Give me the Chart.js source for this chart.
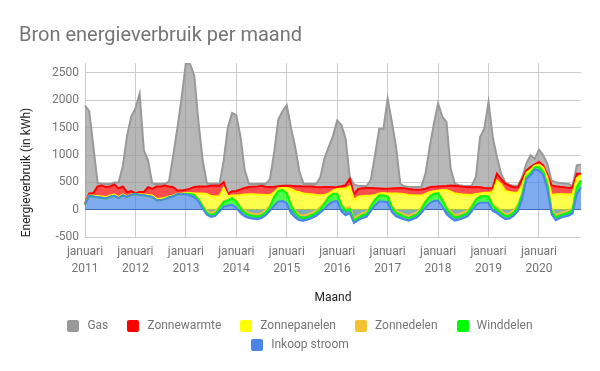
<!DOCTYPE html>
<html lang="nl">
<head>
<meta charset="utf-8">
<title>Bron energieverbruik per maand</title>
<script src="https://cdn.jsdelivr.net/npm/chart.js@4.4.1/dist/chart.umd.min.js"></script>
<style>
  html, body { margin: 0; padding: 0; background: #fff; }
  #wrap { position: relative; width: 600px; height: 371px; }
  #legenda {
    position: absolute; left: 40px; top: 316px; width: 520px;
    display: flex; flex-wrap: wrap; justify-content: center; gap: 0 19px;
    font: 12px Roboto, sans-serif; color: #757575; line-height: 19px;
  }
  #legenda .item { display: inline-flex; align-items: center; cursor: pointer; white-space: nowrap; }
  #legenda .item.uit { opacity: 0.4; }
  #legenda .blokje { width: 12px; height: 12px; border-radius: 2px; margin-right: 8px; }
</style>
</head>
<body>
<div id="wrap">
  <canvas id="energieChart"></canvas>
  <div id="legenda"></div>
</div>
<script>
const maandNamen = ['januari', 'februari', 'maart', 'april', 'mei', 'juni', 'juli', 'augustus', 'september', 'oktober', 'november', 'december'];
const jaren = [2011, 2012, 2013, 2014, 2015, 2016, 2017, 2018, 2019, 2020];

// kWh per maand, januari 2011 t/m november 2020
const inkoopStroom = [
  95, 252, 241, 230, 219, 207, 237, 255, 212, 265, 234, 275,
  288, 270, 265, 250, 237, 176, 176, 195, 224, 247, 283, 283,
  285, 262, 232, 150, 20, -90, -130, -110, -30, 60, 80, 90,
  40, -60, -120, -150, -165, -170, -150, -100, -20, 80, 150, 160,
  120, -60, -140, -190, -200, -180, -150, -110, -50, 20, 100, 150,
  160, -30, -100, -60, -240, -190, -150, -130, -20, 80, 150, 150,
  140, -40, -120, -150, -180, -200, -170, -140, -60, 40, 120, 160,
  170, 60, -80, -150, -200, -180, -150, -120, -30, 80, 130, 130,
  130, -20, -60, -120, -170, -160, -110, -20, 200, 560, 630, 740,
  720, 640, 380, -80, -190, -150, -125, -110, -70, 293, 414
];
const winddelen = [
  0, 0, 0, 0, 0, 0, 0, 0, 0, 0, 0, 0,
  0, 0, 0, 0, 0, 0, 0, 0, 0, 0, 0, 0,
  10, 25, 35, 40, 40, 35, 35, 40, 60, 80, 90, 120,
  110, 90, 70, 55, 50, 45, 45, 55, 70, 150, 190, 200,
  180, 140, 90, 60, 50, 50, 55, 55, 65, 90, 130, 140,
  130, 110, 90, 70, 45, 45, 50, 55, 75, 100, 110, 110,
  100, 90, 70, 60, 50, 45, 50, 55, 70, 100, 120, 130,
  130, 120, 100, 80, 60, 55, 55, 60, 75, 100, 110, 120,
  110, 90, 70, 60, 50, 50, 60, 80, 80, 40, 40, 30,
  60, 60, 80, 60, 50, 45, 50, 55, 70, 120, 120
];
const zonnedelen = [
  0, 0, 0, 0, 0, 0, 0, 0, 0, 0, 0, 0,
  0, 0, 0, 0, 0, 0, 0, 0, 0, 0, 0, 0,
  0, 5, 10, 15, 25, 35, 40, 40, 30, 20, 10, 10,
  15, 25, 35, 40, 45, 45, 45, 40, 30, 15, 10, 8,
  10, 25, 35, 40, 45, 45, 45, 40, 35, 25, 15, 10,
  10, 25, 35, 40, 40, 40, 40, 35, 25, 15, 10, 8,
  10, 25, 35, 40, 45, 45, 45, 40, 30, 20, 10, 8,
  10, 20, 30, 40, 45, 45, 45, 40, 30, 20, 10, 10,
  10, 25, 40, 45, 45, 45, 40, 30, 20, 10, 10, 5,
  5, 10, 20, 40, 45, 45, 40, 35, 30, 15, 10
];
const zonnepanelen = [
  5, 10, 15, 20, 25, 25, 25, 25, 20, 15, 10, 5,
  5, 10, 15, 20, 25, 25, 25, 25, 20, 15, 10, 10,
  10, 15, 23, 95, 215, 310, 305, 275, 190, 240, 70, 42,
  100, 215, 295, 340, 355, 360, 335, 275, 190, 75, 40, 32,
  90, 275, 355, 410, 405, 375, 335, 285, 215, 135, 55, 50,
  80, 280, 360, 380, 335, 345, 310, 295, 180, 75, 30, 37,
  50, 225, 315, 345, 370, 380, 340, 305, 220, 130, 70, 42,
  40, 160, 310, 360, 395, 370, 330, 295, 195, 90, 50, 50,
  60, 225, 480, 480, 420, 390, 320, 220, 150, 60, 50, 30,
  40, 60, 110, 250, 380, 350, 320, 300, 260, 150, 85
];
const zonnewarmte = [
  20, 31, 49, 177, 201, 183, 165, 184, 158, 147, 79, 62,
  12, 43, 43, 145, 122, 226, 226, 225, 183, 153, 61, 61,
  61, 79, 115, 127, 127, 135, 190, 200, 190, 105, 40, 78,
  80, 100, 120, 130, 135, 145, 165, 150, 145, 100, 40, 40,
  40, 60, 90, 110, 125, 135, 140, 145, 145, 145, 115, 60,
  35, 45, 65, 135, 110, 140, 145, 145, 140, 125, 90, 80,
  85, 90, 95, 105, 110, 110, 105, 105, 110, 95, 90, 80,
  75, 70, 75, 115, 140, 140, 140, 140, 140, 125, 110, 90,
  85, 80, 129, 95, 131, 115, 104, 104, 110, 50, 50, 25,
  47, 41, 50, 175, 145, 130, 129, 120, 120, 80, 30
];
const gas = [
  1780, 1507, 845, 63, 25, 55, 43, 36, 110, 373, 1027, 1358,
  1545, 1797, 767, 485, 96, 43, 43, 25, 93, 585, 1146, 1696,
  2314, 2274, 2035, 1173, 473, 55, 30, 30, 30, 398, 1223, 1429,
  1381, 960, 320, 61, 50, 45, 30, 50, 145, 630, 1220, 1360,
  1470, 1060, 720, 270, 51, 45, 45, 55, 190, 535, 735, 940,
  1215, 1120, 850, 25, 170, 60, 40, 35, 150, 605, 1092, 1097,
  1646, 1214, 752, 76, 35, 40, 45, 50, 50, 275, 740, 1150,
  1515, 1270, 1165, 305, 36, 20, 20, 20, 30, 183, 920, 1082,
  1575, 930, 305, 99, 24, 20, 26, 26, 40, 122, 220, 100,
  226, 183, 201, 91, 75, 70, 66, 76, 20, 153, 170
];

const yTicks = [-500, 0, 500, 1000, 1500, 2000, 2500];

const maanden = [];
jaren.forEach(jaar => maandNamen.forEach(naam => maanden.push(naam + ' ' + jaar)));
const labels = maanden.slice(0, gas.length);

Chart.defaults.font.family = 'Roboto, sans-serif';
Chart.defaults.font.size = 12;
Chart.defaults.color = '#757575';

function reeks(label, data, kleur, vulling, fill) {
  return {
    label: label,
    data: data,
    borderColor: kleur,
    backgroundColor: vulling,
    borderWidth: 2,
    pointRadius: 0,
    tension: 0,
    fill: fill
  };
}

// onderste laag eerst, zodat de stapeling klopt
const datasets = [
  reeks('Inkoop stroom', inkoopStroom, '#4a86e8', 'rgba(74, 134, 232, 0.7)', 'origin'),
  reeks('Winddelen', winddelen, '#00ff00', 'rgba(0, 255, 0, 0.7)', '-1'),
  reeks('Zonnedelen', zonnedelen, '#f1c232', 'rgba(241, 194, 50, 0.7)', '-1'),
  reeks('Zonnepanelen', zonnepanelen, '#ffff00', 'rgba(255, 255, 0, 0.7)', '-1'),
  reeks('Zonnewarmte', zonnewarmte, '#ff0000', 'rgba(255, 0, 0, 0.7)', '-1'),
  reeks('Gas', gas, '#999999', 'rgba(153, 153, 153, 0.7)', '-1')
];

// legenda als HTML onder de grafiek, Gas bovenaan zoals in het origineel
const htmlLegenda = {
  id: 'htmlLegenda',
  afterUpdate(chart) {
    const box = document.getElementById('legenda');
    box.innerHTML = '';
    chart.data.datasets.map((ds, i) => i).reverse().forEach(i => {
      const ds = chart.data.datasets[i];
      const item = document.createElement('span');
      item.className = 'item' + (chart.isDatasetVisible(i) ? '' : ' uit');
      const blokje = document.createElement('span');
      blokje.className = 'blokje';
      blokje.style.background = ds.borderColor;
      item.appendChild(blokje);
      item.appendChild(document.createTextNode(ds.label));
      item.addEventListener('click', () => {
        chart.setDatasetVisibility(i, !chart.isDatasetVisible(i));
        chart.update();
      });
      box.appendChild(item);
    });
  }
};

const ctx = document.getElementById('energieChart').getContext('2d');
const energieChart = new Chart(ctx, {
  type: 'line',
  data: { labels: labels, datasets: datasets },
  plugins: [htmlLegenda],
  options: {
    responsive: true,
    maintainAspectRatio: false,
    animation: false,
    layout: { padding: { left: 19, right: 19, top: 0, bottom: 65 } },
    scales: {
      x: {
        border: { display: false },
        grid: {
          drawTicks: false,
          color: c => (c.index % 12 === 0 ? '#cccccc' : 'rgba(0, 0, 0, 0)')
        },
        ticks: {
          autoSkip: false,
          maxRotation: 0,
          minRotation: 0,
          padding: 7,
          font: { size: 12, lineHeight: 1.35 },
          callback: function (value, index) {
            const label = labels[index];
            return label.startsWith('januari') ? label.split(' ') : '';
          }
        },
        title: {
          display: true,
          text: 'Maand',
          color: '#222222',
          font: { size: 12 },
          padding: { top: 7, bottom: 1 }
        }
      },
      y: {
        stacked: 'single',
        min: -500,
        max: 2680,
        border: { display: false },
        grid: {
          drawTicks: false,
          color: c => (c.tick && c.tick.value === 0 ? '#34527f' : '#cccccc')
        },
        ticks: {
          stepSize: 500,
          padding: 6,
          callback: value => String(value)
        },
        afterBuildTicks: scale => {
          scale.ticks = yTicks.map(v => ({ value: v }));
        },
        afterFit: scale => {
          scale.width = 66;
        },
        title: {
          display: true,
          text: 'Energieverbruik (in kWh)',
          align: 'start',
          color: '#222222',
          font: { size: 12 },
          padding: { top: 1, bottom: 0 }
        }
      }
    },
    plugins: {
      filler: { drawTime: 'beforeDatasetsDraw' },
      legend: { display: false },
      title: {
        display: true,
        text: 'Bron energieverbruik per maand',
        align: 'start',
        color: '#757575',
        font: { size: 20, weight: 'normal' },
        padding: { top: 24, bottom: 15 }
      }
    }
  }
});
</script>
</body>
</html>
